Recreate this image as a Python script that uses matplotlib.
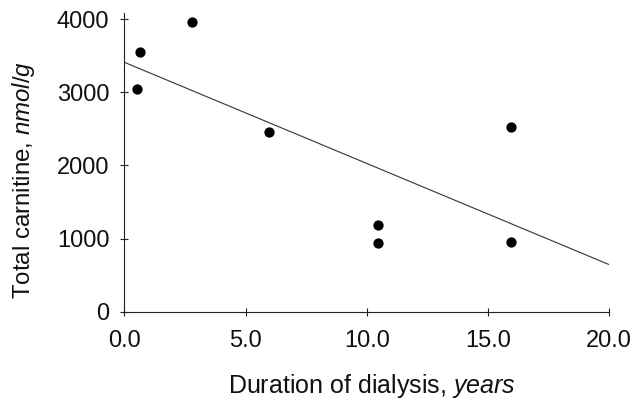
import numpy as np
import matplotlib
matplotlib.use("Agg")
import matplotlib.pyplot as plt

# Data
duration_years = [0.5, 0.64, 2.8, 5.97, 10.46, 10.46, 15.96, 15.96]
total_carnitine = [3040, 3555, 3960, 2460, 1180, 935, 2520, 955]
x_ticks = [0, 5, 10, 15, 20]
x_tick_labels = ["0.0", "5.0", "10.0", "15.0", "20.0"]
y_ticks = [0, 1000, 2000, 3000, 4000]
y_tick_labels = ["0", "1000", "2000", "3000", "4000"]

plt.rcParams['font.family'] = ['Liberation Sans', 'DejaVu Sans']
plt.rcParams['mathtext.fontset'] = 'custom'
plt.rcParams['mathtext.rm'] = 'Liberation Sans'
plt.rcParams['mathtext.it'] = 'Liberation Sans:italic'

fig = plt.figure(figsize=(6.37, 4.01), dpi=100)
ax = fig.add_axes([0.1954, 0.2227, 0.7611, 0.7456])

ax.plot(duration_years, total_carnitine, 'o', color='black', markersize=7.4,
        markeredgewidth=0, zorder=3, clip_on=False)

# regression line
slope, intercept = np.polyfit(duration_years, total_carnitine, 1)
xl = np.array([0, 20])
ax.plot(xl, intercept + slope * xl, color='#333333', linewidth=0.8)

ax.set_xlim(0, 20)
ax.set_ylim(0, 4090)
ax.set_xticks(x_ticks)
ax.set_xticklabels(x_tick_labels)
ax.set_yticks(y_ticks)
ax.set_yticklabels(y_tick_labels)

for s in ['top', 'right']:
    ax.spines[s].set_visible(False)
for s in ['left', 'bottom']:
    ax.spines[s].set_linewidth(0.8)
    ax.spines[s].set_color('#222222')

ax.tick_params(axis='both', direction='inout', length=5.8, width=0.8,
               color='#222222', labelsize=17, labelcolor='#111111')
ax.tick_params(axis='y', pad=8)
ax.tick_params(axis='x', pad=10)

ax.set_xlabel("Duration of dialysis, $\\mathit{years}$", fontsize=18, color='#111111')
ax.set_ylabel("Total carnitine, $\\mathit{nmol/g}$", fontsize=17.3, color='#111111')
ax.xaxis.set_label_coords(0.51, -0.203)
ax.yaxis.set_label_coords(-0.18, 0.44)

fig.savefig("out.png", dpi=100)
